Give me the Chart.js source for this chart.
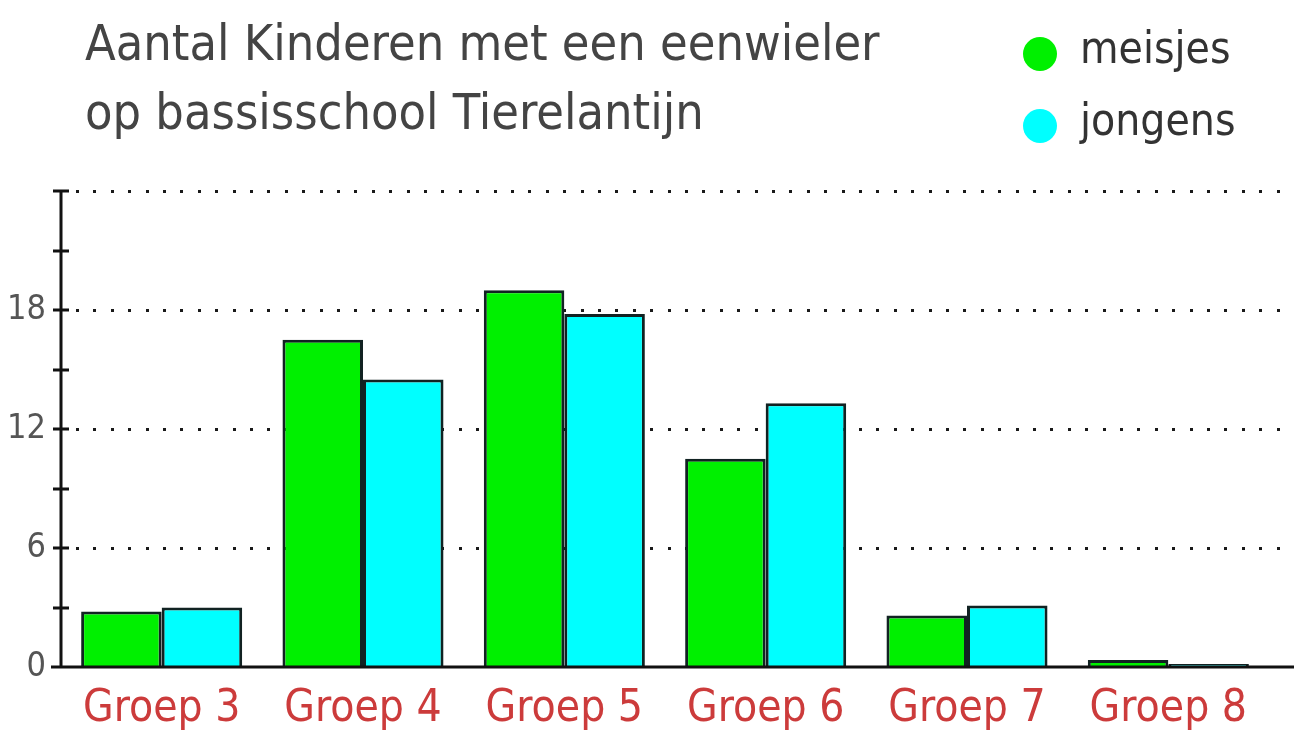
<!DOCTYPE html>
<html>
<head>
<meta charset="utf-8">
<title>Aantal kinderen met een eenwieler</title>
<script src="https://cdn.jsdelivr.net/npm/chart.js@4.4.1/dist/chart.umd.min.js"></script>
<style>
  html, body { margin: 0; padding: 0; background: #fff; }
  #wrap { position: relative; width: 1294px; height: 735px; }
</style>
</head>
<body>
<div id="wrap"><canvas id="myChart"></canvas></div>
<script>
'use strict';

// chart values
let titleLines = ['Aantal Kinderen met een eenwieler', 'op bassisschool Tierelantijn'];
let groepen = ['Groep 3', 'Groep 4', 'Groep 5', 'Groep 6', 'Groep 7', 'Groep 8'];
let meisjes = [2.8, 16.5, 19.0, 10.5, 2.6, 0.35];
let jongens = [3.0, 14.5, 17.8, 13.3, 3.1, 0.15];
let yLabels = [0, 6, 12, 18];
let yMax = 24;
let yStep = 3;

let fontFamily = '"DejaVu Sans Condensed", "DejaVu Sans", sans-serif';

// dotted lines, axes and tick marks
const axisPlugin = {
  id: 'axisPlugin',
  beforeDatasetsDraw(chart) {
    let ctx = chart.ctx;
    let yScale = chart.scales.y;
    let area = chart.chartArea;
    ctx.save();
    ctx.fillStyle = '#1a1a1a';
    for (let i = 0; i < yScale.ticks.length; i++) {
      let v = yScale.ticks[i].value;
      if (v === 0 || v % 6 !== 0) {
        continue;
      }
      let py = Math.round(yScale.getPixelForValue(v));
      for (let px = area.left + 16; px < chart.width; px += 17.4) {
        ctx.fillRect(Math.round(px) - 1, py - 1, 3, 3);
      }
    }
    ctx.restore();
  },
  afterDatasetsDraw(chart) {
    let ctx = chart.ctx;
    let yScale = chart.scales.y;
    let area = chart.chartArea;
    ctx.save();
    ctx.strokeStyle = '#111';
    ctx.lineWidth = 3;
    ctx.beginPath();
    ctx.moveTo(area.left - 10, area.bottom);
    ctx.lineTo(chart.width, area.bottom);
    ctx.moveTo(area.left, area.top);
    ctx.lineTo(area.left, area.bottom);
    for (let i = 0; i < yScale.ticks.length; i++) {
      let py = Math.round(yScale.getPixelForValue(yScale.ticks[i].value));
      ctx.moveTo(area.left - 8, py);
      ctx.lineTo(area.left + 8, py);
    }
    ctx.stroke();
    ctx.restore();
  }
};

// title and legend at the top
const headerPlugin = {
  id: 'headerPlugin',
  afterDraw(chart) {
    let ctx = chart.ctx;
    ctx.save();
    ctx.fillStyle = '#444';
    ctx.textBaseline = 'alphabetic';
    ctx.font = '50px ' + fontFamily;
    ctx.fillText(titleLines[0], 85, 60);
    ctx.fillText(titleLines[1], 85, 129);

    ctx.font = '44px ' + fontFamily;
    ctx.textBaseline = 'middle';
    for (let i = 0; i < chart.data.datasets.length; i++) {
      let ds = chart.data.datasets[i];
      let cy = 54 + i * 72;
      ctx.fillStyle = ds.backgroundColor;
      ctx.beginPath();
      ctx.arc(1040, cy, 17, 0, Math.PI * 2);
      ctx.fill();
      ctx.fillStyle = '#333';
      ctx.fillText(ds.label, 1080, cy - 2);
    }
    ctx.restore();
  }
};

const ctx = document.getElementById('myChart');

new Chart(ctx, {
  type: 'bar',
  data: {
    labels: groepen,
    datasets: [{
      label: 'meisjes',
      data: meisjes,
      backgroundColor: '#00f000',
      borderColor: '#122',
      borderWidth: 3
    }, {
      label: 'jongens',
      data: jongens,
      backgroundColor: '#00ffff',
      borderColor: '#122',
      borderWidth: 3
    }]
  },
  options: {
    responsive: true,
    maintainAspectRatio: false,
    animation: false,
    layout: {
      padding: { top: 191, right: 25, left: 0, bottom: 0 }
    },
    datasets: {
      bar: { categoryPercentage: 0.8, barPercentage: 1.0 }
    },
    plugins: {
      legend: { display: false },
      title: { display: false },
      tooltip: { enabled: false }
    },
    scales: {
      x: {
        grid: { display: false, drawTicks: false },
        border: { display: false },
        ticks: {
          color: '#cc3b3b',
          font: { family: fontFamily, size: 44 },
          padding: 16,
          maxRotation: 0
        },
        afterFit(scale) {
          scale.height = 68;
        }
      },
      y: {
        min: 0,
        max: yMax,
        grid: { display: false, drawTicks: false },
        border: { display: false },
        ticks: {
          stepSize: yStep,
          color: '#555',
          font: { family: fontFamily, size: 34 },
          padding: 15,
          callback: function(value) {
            return yLabels.includes(value) ? String(value) : '';
          }
        },
        afterFit(scale) {
          scale.width = 61;
        }
      }
    }
  },
  plugins: [axisPlugin, headerPlugin]
});
</script>
</body>
</html>
